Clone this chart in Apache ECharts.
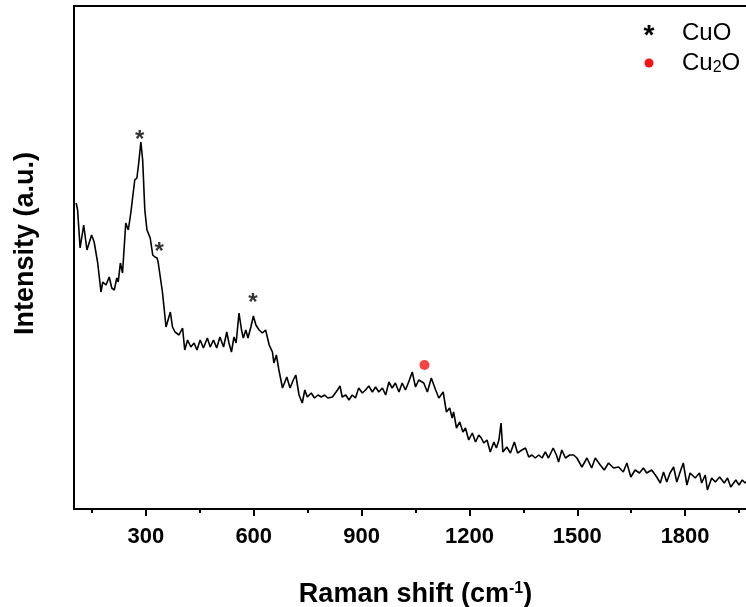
<!DOCTYPE html>
<html><head><meta charset="utf-8">
<script src="https://cdn.jsdelivr.net/npm/echarts@6/dist/echarts.min.js"></script>
<style>html,body{margin:0;padding:0;background:#fff}#c{width:746px;height:607px}</style>
</head><body><div id="c"></div>
<script>
// Raman shift (cm-1)
const ramanShift = [106,110,117,127,136,149,156,166,175,180,189,198,205,212,219,223,229,235,244,251,258,269,275,280,286,291,297,303,306,312,319,325,331,334,337,346,356,360,368,374,381,392,402,408,416,425,434,442,451,460,471,479,488,497,506,516,525,531,538,545,551,559,566,571,578,584,592,599,606,615,624,633,643,652,656,663,670,680,692,701,710,717,726,735,742,749,760,769,779,788,797,806,819,833,840,846,856,865,874,883,892,902,911,920,930,939,948,958,967,976,985,994,1004,1013,1022,1031,1041,1050,1059,1073,1083,1094,1106,1115,1127,1136,1145,1152,1156,1164,1173,1182,1189,1198,1208,1217,1226,1233,1240,1249,1258,1268,1275,1282,1288,1293,1304,1314,1325,1334,1346,1356,1365,1374,1383,1393,1402,1411,1420,1433,1442,1448,1457,1467,1479,1490,1499,1513,1527,1540,1550,1564,1575,1587,1601,1615,1628,1638,1649,1661,1673,1684,1693,1707,1721,1731,1740,1749,1758,1768,1777,1788,1795,1805,1814,1828,1840,1846,1856,1862,1874,1884,1896,1909,1918,1927,1941,1950,1959,1967,1978,1988,2000];
// Intensity (a.u.)
const intensity = [306,299,261,284,259,274,267,246,217,227,224,232,221,219,231,227,246,236,286,279,296,329,331,346,367,349,299,279,281,271,254,252,251,247,246,217,182,187,197,182,177,174,181,159,169,162,166,159,169,161,171,162,169,161,172,162,177,166,157,172,166,196,179,171,179,171,182,193,184,179,176,179,164,157,146,154,139,121,132,121,129,134,114,106,119,112,116,111,114,112,114,111,112,119,123,112,114,109,114,111,121,116,119,123,117,122,117,121,114,127,121,126,117,126,119,127,137,122,129,126,117,131,119,111,117,97,101,91,97,81,87,77,81,69,76,67,74,71,66,69,57,67,61,69,86,57,62,56,67,56,59,61,52,54,51,54,51,57,51,61,54,47,59,51,54,54,51,42,51,41,51,44,39,46,41,42,37,46,32,39,36,41,36,39,32,26,37,27,36,42,27,39,46,24,36,31,36,26,34,19,31,27,32,26,31,22,29,24,29,26,30,24,28];
// Peak markers
const cuoPeaksX = [283, 337, 598];
const cuoPeaksY = [376, 264, 213];
const cu2oPeakX = [1075];
const cu2oPeakY = [144];
// Axis ticks
const majorTicks = [300, 600, 900, 1200, 1500, 1800];
const minorTicks = [150, 450, 750, 1050, 1350, 1650, 1950];
// Legend labels
const legendCuO = 'CuO';
const legendCu2O = '{a|Cu}{s|2}{a|O}';

const FONT = 'Arial, "Liberation Sans", sans-serif';
const chart = echarts.init(document.getElementById('c'), null, {renderer: 'canvas'});
const lineData = ramanShift.map((x, i) => [x, intensity[i]]);
const cuoData = cuoPeaksX.map((x, i) => [x, cuoPeaksY[i]]);
const cu2oData = cu2oPeakX.map((x, i) => [x, cu2oPeakY[i]]);

chart.setOption({
  animation: false,
  backgroundColor: '#fff',
  grid: {left: 74, top: 6, bottom: 98, right: -11, outerBoundsMode: 'none', containLabel: false},
  xAxis: [{
    type: 'value', min: 100, max: 2000, position: 'bottom',
    axisLine: {show: true, lineStyle: {color: '#000', width: 2}},
    axisTick: {show: true, customValues: majorTicks, length: 7, inside: false, lineStyle: {color: '#000', width: 2}},
    axisLabel: {show: true, customValues: majorTicks, margin: 17, color: '#000', fontSize: 22, fontWeight: 'bold', fontFamily: FONT,
      formatter: v => String(v)},
    splitLine: {show: false},
    name: '{b|Raman shift (cm}{s|-1}{b|)}', nameLocation: 'middle', nameGap: 72,
    nameTextStyle: {rich: {
      b: {fontSize: 27, fontWeight: 'bold', fontFamily: FONT, color: '#000'},
      s: {fontSize: 16, fontWeight: 'bold', fontFamily: FONT, color: '#000', verticalAlign: 'top', padding: [0, 0, 12, 0]}
    }}
  }, {
    type: 'value', min: 100, max: 2000, position: 'bottom',
    axisLine: {show: false},
    axisTick: {show: true, customValues: minorTicks, length: 4, lineStyle: {color: '#000', width: 2}},
    axisLabel: {show: false}, splitLine: {show: false}
  }, {
    type: 'value', min: 100, max: 2000, position: 'top',
    axisLine: {show: true, lineStyle: {color: '#000', width: 2}},
    axisTick: {show: false}, axisLabel: {show: false}, splitLine: {show: false}
  }],
  yAxis: [{
    type: 'value', min: 0, max: 503,
    axisLine: {show: true, lineStyle: {color: '#000', width: 2}},
    axisTick: {show: false}, axisLabel: {show: false}, splitLine: {show: false},
    name: 'Intensity (a.u.)', nameLocation: 'middle', nameGap: 35,
    nameTextStyle: {fontSize: 27, fontWeight: 'bold', fontFamily: FONT, color: '#000', padding: [0, 0, 0, 28]}
  }],
  series: [{
    type: 'line', data: lineData, xAxisIndex: 0, yAxisIndex: 0,
    showSymbol: false, symbol: 'none', smooth: false,
    lineStyle: {color: '#000', width: 1.6}, clip: true
  }, {
    type: 'scatter', data: cuoData, symbolSize: 1,
    itemStyle: {color: 'rgba(0,0,0,0)'},
    label: {show: true, formatter: '*', position: 'inside', offset: [0, 7], fontSize: 24, fontWeight: 'bold', fontFamily: FONT, color: '#000'}
  }, {
    type: 'scatter', data: cu2oData, symbol: 'circle', symbolSize: 10,
    itemStyle: {color: '#f21414'}
  }],
  graphic: [
    {type: 'text', x: 649, y: 36, style: {text: '*', fontSize: 28, fontWeight: 'bold', fontFamily: FONT, fill: '#000', align: 'center', verticalAlign: 'middle'}},
    {type: 'text', x: 682, y: 33, style: {text: legendCuO, fontSize: 24, fontFamily: FONT, fill: '#000', align: 'left', verticalAlign: 'middle'}},
    {type: 'circle', shape: {cx: 649, cy: 63, r: 4.5}, style: {fill: '#f21414'}},
    {type: 'text', x: 682, y: 63, style: {
      text: legendCu2O, align: 'left', verticalAlign: 'middle',
      rich: {a: {fontSize: 24, fontFamily: FONT, color: '#000'},
             s: {fontSize: 16, fontFamily: FONT, color: '#000', verticalAlign: 'bottom', padding: [10, 0, 0, 0]}}
    }}
  ]
});
</script></body></html>
